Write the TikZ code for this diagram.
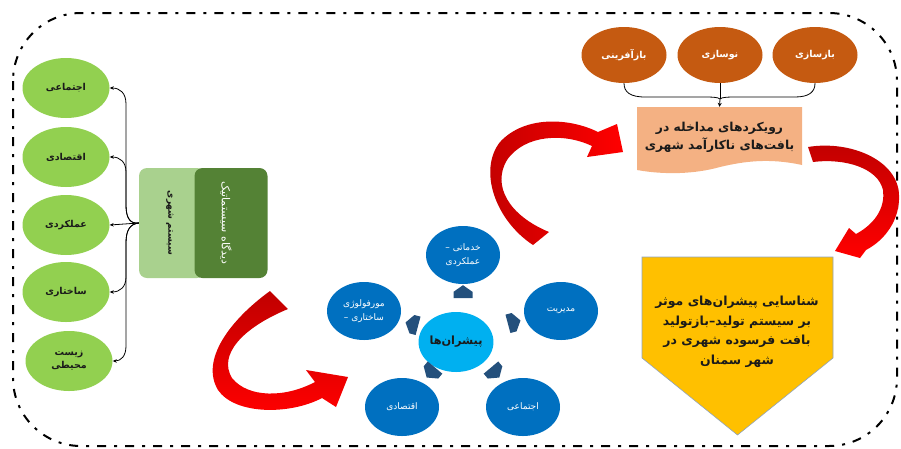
\documentclass[tikz,border=0pt]{standalone}
\usepackage{fontspec}
\usetikzlibrary{shapes.geometric,shapes.symbols,arrows.meta}
\TeXXeTstate=1
\newfontfamily\fa[Script=Arabic]{DejaVu Sans}
\newcommand\rl[1]{\beginR #1\endR}
\definecolor{gEll}{HTML}{92D050}
\definecolor{lGreen}{HTML}{A9D18E}
\definecolor{dGreen}{HTML}{548235}
\definecolor{oEll}{HTML}{C55A11}
\definecolor{peach}{HTML}{F4B183}
\definecolor{yell}{HTML}{FFC000}
\definecolor{yborder}{HTML}{8FA3BF}
\definecolor{bEll}{HTML}{0070C0}
\definecolor{cEll}{HTML}{00B0F0}
\definecolor{sigc}{HTML}{24507C}
\definecolor{rdark}{HTML}{C00000}
\definecolor{rbright}{HTML}{FF0000}
\definecolor{txt}{HTML}{1A1A1A}
\begin{document}
\begin{tikzpicture}[x=1pt,y=-1pt,
  gell/.style={ellipse, fill=gEll, minimum width=87, minimum height=60, inner sep=0pt,
    font=\fa\bfseries\fontsize{9.5}{13}\selectfont, text=txt, align=center},
  oell/.style={ellipse, fill=oEll, minimum width=85, minimum height=56, inner sep=0pt,
    font=\fa\bfseries\fontsize{9.5}{11}\selectfont, text=white},
  bell/.style={ellipse, fill=bEll, minimum width=74, minimum height=58, inner sep=0pt,
    font=\fa\fontsize{9}{14}\selectfont, text=white, align=center},
  cell/.style={ellipse, fill=cEll, minimum width=62, minimum height=60, inner sep=0pt,
    font=\fa\bfseries\fontsize{11.3}{13}\selectfont, text=txt},
  sig/.style={signal, signal to=east, signal pointer angle=110, fill=sigc,
    minimum width=13, minimum height=19, inner sep=0pt},
  brace/.style={-{Stealth[length=4pt,width=3.5pt]}, line width=0.8pt, black},
  tline/.style={line width=0.8pt, black},
  border/.style={line width=2pt, dash pattern=on 9pt off 8pt on 3pt off 8pt, rounded corners=68pt}
]
\useasboundingbox (0,0) rectangle (901,448);
\draw[border] (13,13) rectangle (897,446);

% ---------- left: green ellipses ----------
\node[gell] (g1) at (66,88) {\rl{اجتماعی}};
\node[gell] (g2) at (66,157) {\rl{اقتصادی}};
\node[gell] (g3) at (66,225) {\rl{عملکردی}};
\node[gell] (g4) at (66,292) {\rl{ساختاری}};
\node[gell] (g5) at (69,361) {\rl{زیست}\\\rl{محیطی}};

% boxes
\node[fill=lGreen, rounded corners=8pt, minimum width=66, minimum height=110, inner sep=0pt] (lb) at (172,223) {};
\node[fill=dGreen, rounded corners=8pt, minimum width=73, minimum height=110, inner sep=0pt] (db) at (231,223) {};
\node[rotate=-90, font=\fa\bfseries\fontsize{9}{11}\selectfont, text=txt] at (170,223) {\rl{سیستم شهری}};
\node[rotate=-90, font=\fa\fontsize{11}{13}\selectfont, text=white] at (226,223) {\rl{دیدگاه سیستماتیک}};

% brace
\coordinate (J) at (lb.west);
\draw[brace] (J) .. controls (130,224) and (126,218) .. (126,205) -- (126,104) .. controls (126,93) and (120,88) .. (g1.east);
\draw[brace] (J) .. controls (130,224) and (126,218) .. (126,205) -- (126,172) .. controls (126,162) and (120,157) .. (g2.east);
\draw[brace] (J) -- (g3.east);
\draw[brace] (J) .. controls (130,224) and (126,230) .. (126,243) -- (126,277) .. controls (126,287) and (120,292) .. (g4.east);
\draw[brace] (J) .. controls (130,224) and (126,230) .. (126,243) -- (126,346) .. controls (126,356) and (121,361) .. (g5.east);

% ---------- top right: orange ellipses ----------
\node[oell] (o1) at (624,55) {\rl{بازآفرینی}};
\node[oell] (o2) at (720,55) {\rl{نوسازی}};
\node[oell] (o3) at (815,55) {\rl{بازسازی}};

\fill[peach] (637,107) -- (802,107) -- (802,165) .. controls (770,158) and (745,161) .. (720,167) .. controls (695,174) and (665,175) .. (637,170) -- cycle;
\node[minimum width=165, minimum height=60, inner sep=0pt, align=center,
  font=\fa\bfseries\fontsize{12.3}{18}\selectfont, text=txt] (pk) at (719.5,137)
  {\rl{رویکردهای مداخله در}\\\rl{بافت‌های ناکارآمد شهری}};

\coordinate (K) at (720,99);
\draw[tline] (o1.south) .. controls (624,92) and (630,97) .. (645,97) -- (700,97) .. controls (712,97) and (718,97) .. (K);
\draw[tline] (o3.south) .. controls (815,92) and (809,97) .. (795,97) -- (740,97) .. controls (728,97) and (722,97) .. (K);
\draw[tline] (o2.south) -- (K);
\draw[tline,-{Stealth[length=4pt,width=4pt]}] (K) -- (pk.north);

% ---------- yellow pentagon ----------
\filldraw[fill=yell, draw=yborder, line width=0.6pt] (642,257) -- (833,257) -- (833,358) -- (737.5,435) -- (642,358) -- cycle;
\node[align=center, font=\fa\bfseries\fontsize{12.5}{19.5}\selectfont, text=txt] (yl) at (737,332)
  {\rl{شناسایی پیشران‌های موثر}\\\rl{بر سیستم تولید–بازتولید}\\\rl{بافت فرسوده شهری در}\\\rl{شهر سمنان}};

% ---------- blue cycle ----------
\node[cell] (c0) at (456,342) {\rl{پیشران‌ها}};
\node[bell] (b1) at (463,255) {\rl{خدماتی –}\\\rl{عملکردی}};
\node[bell] (b2) at (561,311) {\rl{مدیریت}};
\node[bell] (b3) at (523,407) {\rl{اجتماعی}};
\node[bell] (b4) at (402,407) {\rl{اقتصادی}};
\node[bell] (b5) at (364,311) {\rl{مورفولوژی}\\\rl{ساختاری –}};
\node[sig, rotate=90] (s1) at (463,295) {};
\node[sig, rotate=165] (s2) at (415,325) {};
\node[sig, rotate=15] (s3) at (511,323) {};
\node[sig, rotate=-130] (s4) at (433,370) {};
\node[sig, rotate=-50] (s5) at (493,370) {};

% ---------- red ribbon arrows ----------
\shade[top color=rdark, bottom color=rbright]
  (270,291) .. controls (230,320) and (200,360) .. (218,390) .. controls (235,415) and (290,415) .. (322,398)
  -- (336,407) -- (348,377) -- (306,370) -- (315,382)
  .. controls (285,398) and (248,398) .. (232,378) .. controls (218,355) and (242,328) .. (288,309) -- cycle;
\shade[left color=rdark, right color=rbright]
  (533,245) .. controls (495,220) and (478,170) .. (500,142) .. controls (525,115) and (570,118) .. (598,132)
  -- (617,124) -- (623,152) -- (587,157) -- (592,146)
  .. controls (565,133) and (525,134) .. (507,160) .. controls (492,185) and (508,215) .. (549,232) -- cycle;
\shade[top color=rdark, bottom color=rbright]
  (808,147) .. controls (850,140) and (898,160) .. (899,195) .. controls (900,220) and (885,240) .. (866,250)
  -- (860,258) -- (835,251) -- (849,228) -- (856,234)
  .. controls (878,222) and (885,205) .. (883,190) .. controls (878,168) and (845,158) .. (813,162) -- cycle;
\end{tikzpicture}
\end{document}
